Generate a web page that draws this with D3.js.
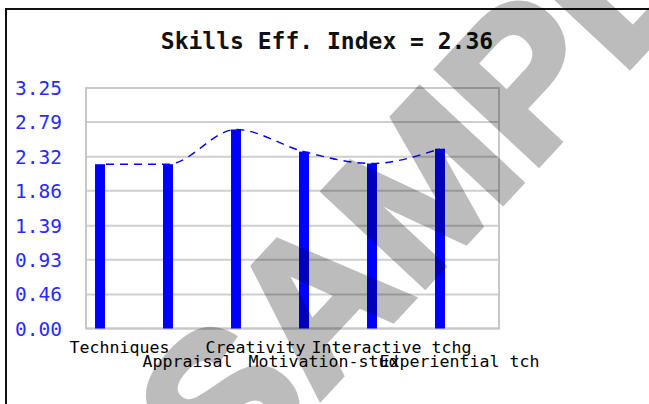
<!DOCTYPE html>
<html>
<head>
<meta charset="utf-8">
<script src="https://cdn.jsdelivr.net/npm/d3@7"></script>
<style>
  body { margin: 0; background: #fff; }
</style>
</head>
<body>
<div id="chart"></div>
<script>
var categories = ["Techniques", "Appraisal", "Creativity", "Motivation-stud", "Interactive tchg", "Experiential tch"];
var values = [2.22, 2.22, 2.69, 2.39, 2.23, 2.43];
var yTicks = [0, 0.46, 0.93, 1.39, 1.86, 2.32, 2.79, 3.25];
var title = "Skills Eff. Index = 2.36";

var width = 649, height = 404;
var margin = {left: 86, right: 152, top: 88, bottom: 75};
var mono = "'DejaVu Sans Mono', monospace";

var svg = d3.select("#chart").append("svg")
    .attr("width", width)
    .attr("height", height);

// outer frame
svg.append("rect")
    .attr("x", 6).attr("y", 9)
    .attr("width", 700).attr("height", 500)
    .attr("fill", "white")
    .attr("stroke", "#111")
    .attr("stroke-width", 2);

var xScale = d3.scaleBand()
    .domain(categories)
    .range([84, 84 + 68 * categories.length]);

var yScale = d3.scaleLinear()
    .domain([0, 3.25])
    .range([height - margin.bottom - 0.5, margin.top]);

// grid
svg.append("g")
    .selectAll("line")
    .data(yTicks)
    .enter()
    .append("line")
    .attr("x1", margin.left)
    .attr("x2", width - margin.right + 2)
    .attr("y1", d => yScale(d))
    .attr("y2", d => yScale(d))
    .attr("stroke", "#cfcfcf")
    .attr("stroke-width", 2);

svg.append("rect")
    .attr("x", margin.left)
    .attr("y", yScale(3.25))
    .attr("width", width - margin.right + 2 - margin.left)
    .attr("height", yScale(0) - yScale(3.25))
    .attr("fill", "none")
    .attr("stroke", "#c8c8c8")
    .attr("stroke-width", 2);

// y labels
svg.append("g")
    .selectAll("text")
    .data(yTicks)
    .enter()
    .append("text")
    .attr("x", 62)
    .attr("y", d => yScale(d) + 7)
    .attr("text-anchor", "end")
    .attr("font-family", mono)
    .attr("font-size", "19.5px")
    .attr("fill", "#2a2aff")
    .text(d => d.toFixed(2));

// bars
var barW = 10;
svg.append("g")
    .selectAll("rect")
    .data(values)
    .enter()
    .append("rect")
    .attr("x", (d, i) => xScale(categories[i]) + 16 - barW / 2)
    .attr("y", d => yScale(d))
    .attr("width", barW)
    .attr("height", d => yScale(0) - yScale(d))
    .attr("fill", "#0000ff");

// dashed trend line
var lineFunc = d3.line()
    .curve(d3.curveMonotoneX)
    .x((d, i) => xScale(categories[i]) + 16)
    .y(d => yScale(d));

svg.append("path")
    .attr("d", lineFunc(values))
    .attr("fill", "none")
    .attr("stroke", "#0000ff")
    .attr("stroke-width", 1.4)
    .attr("stroke-dasharray", "8,6")
    .attr("stroke-dashoffset", -6);

// x labels, alternating rows
svg.append("g")
    .selectAll("text")
    .data(categories)
    .enter()
    .append("text")
    .attr("x", d => xScale(d) + 35.5)
    .attr("y", (d, i) => i % 2 == 0 ? 353 : 367)
    .attr("text-anchor", "middle")
    .attr("font-family", mono)
    .attr("font-size", "16.6px")
    .attr("fill", "black")
    .text(d => d);

// title
svg.append("text")
    .attr("x", 327)
    .attr("y", 49)
    .attr("text-anchor", "middle")
    .attr("font-family", mono)
    .attr("font-weight", "bold")
    .attr("font-size", "23px")
    .attr("fill", "#111")
    .text(title);

// watermark
svg.append("g")
    .attr("opacity", 0.26)
    .append("text")
    .attr("transform", "translate(460,146) rotate(-47)")
    .attr("text-anchor", "middle")
    .attr("dominant-baseline", "central")
    .attr("font-family", "'Liberation Sans', Arial, sans-serif")
    .attr("font-weight", "bold")
    .attr("font-size", "200px")
    .attr("fill", "#000")
    .attr("stroke", "#000")
    .attr("stroke-width", 7)
    .attr("stroke-linejoin", "miter")
    .text("SAMPLE");
</script>
</body>
</html>
